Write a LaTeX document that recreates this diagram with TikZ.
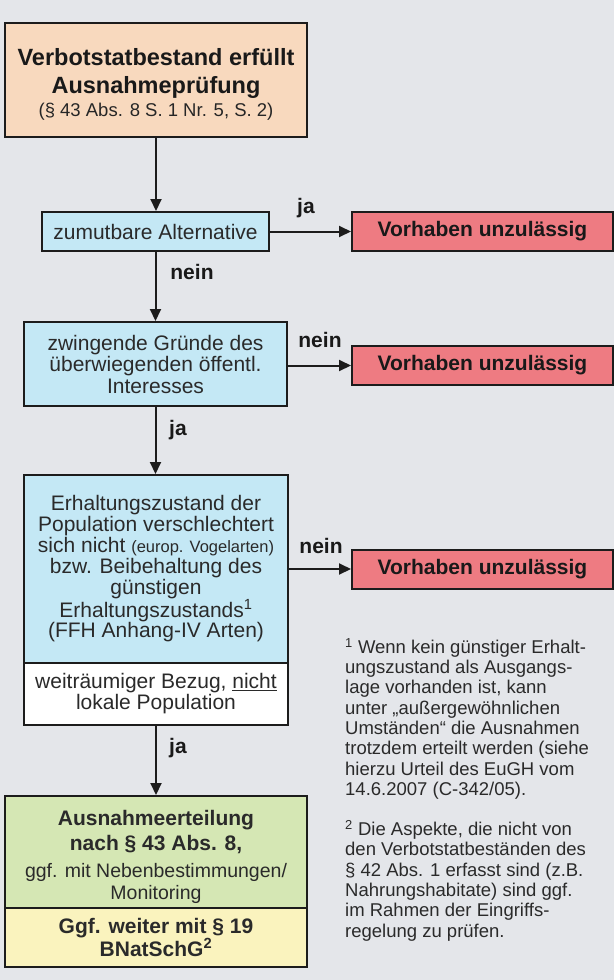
\documentclass[tikz,border=0pt]{standalone}
\usepackage{fontspec}
\setmainfont{Liberation Sans}
\usetikzlibrary{arrows.meta}
\definecolor{bgc}{HTML}{E4E6EA}
\definecolor{linec}{HTML}{1C1C1C}
\definecolor{txtc}{HTML}{2A2A2A}
\definecolor{orangec}{HTML}{F8D9BE}
\definecolor{bluec}{HTML}{C4E8F5}
\definecolor{redc}{HTML}{EE7B82}
\definecolor{greenc}{HTML}{D5E7B4}
\definecolor{yellowc}{HTML}{FAF3BE}
\begin{document}
\begin{tikzpicture}[x=1pt,y=-1pt,
  bx/.style={draw=linec, line width=2pt, inner sep=0pt, align=center, text=txtc},
  ln/.style={inner sep=0pt, anchor=base, text=txtc},
  redbox/.style={bx, fill=redc, minimum width=261pt, minimum height=39pt,
     font=\fontsize{21}{24}\selectfont\bfseries, text=black!90},
  arr/.style={draw=linec, line width=2pt, -{Triangle[length=12pt,width=11pt]}},
  lbl/.style={font=\fontsize{21}{24}\selectfont\bfseries, text=black!90, inner sep=0pt},
  fn/.style={font=\fontsize{18.5}{20.3}\selectfont, text=txtc, align=left, inner sep=0pt, anchor=north west}]
\fill[bgc] (0,0) rectangle (614,980);
\useasboundingbox (0,0) rectangle (614,980);

% main column
\node[bx, fill=orangec, minimum width=302pt, minimum height=114pt] (b1) at (156,80) {};
\node[ln, text=black!90, font=\fontsize{23.5}{28}\selectfont\bfseries] (b1a) at (156,65.5) {Verbotstatbestand erfüllt};
\node[ln, text=black!90, font=\fontsize{23.5}{28}\selectfont\bfseries] (b1b) at (156,93.5) {Ausnahmeprüfung};
\node[ln, text=black!85, font=\fontsize{18.5}{22}\selectfont] (b1c) at (156,116.5) {(§ 43 Abs. 8 S. 1 Nr. 5, S. 2)};

\node[bx, fill=bluec, minimum width=227pt, minimum height=39pt,
  font=\fontsize{21}{24}\selectfont] (b2) at (155.5,231.5) {zumutbare Alternative};

\node[bx, fill=bluec, minimum width=263pt, minimum height=84pt,
  font=\fontsize{21}{21.5}\selectfont] (b3) at (155.5,364)
  {zwingende Gründe des\\überwiegenden öffentl.\\Interesses};

\node[bx, fill=bluec, minimum width=264pt, minimum height=188pt,
  font=\fontsize{21}{20.8}\selectfont] (b4) at (156,569)
  {Erhaltungszustand der\\Population verschlechtert\\
   sich nicht {\fontsize{16.5}{20.8}\selectfont(europ. Vogelarten)}\\
   bzw. Beibehaltung des\\günstigen\\Erhaltungszustands\textsuperscript{1}\\
   (FFH Anhang-IV Arten)};

\node[bx, fill=white, minimum width=264pt, minimum height=62pt,
  font=\fontsize{21}{21}\selectfont] (b4w) at (156,694)
  {weiträumiger Bezug, \underline{nicht}\\lokale Population};

\node[bx, fill=greenc, minimum width=302pt, minimum height=112pt] (b5) at (156,852) {};
\node[ln, font=\fontsize{21}{25}\selectfont\bfseries] (b5a) at (156,825.5) {Ausnahmeerteilung};
\node[ln, font=\fontsize{21}{25}\selectfont\bfseries] (b5b) at (156,850.5) {nach § 43 Abs. 8,};
\node[ln, font=\fontsize{19.5}{22}\selectfont] (b5c) at (156,877) {ggf. mit Nebenbestimmungen/};
\node[ln, font=\fontsize{19.5}{22}\selectfont] (b5d) at (156,899) {Monitoring};

\node[bx, fill=yellowc, minimum width=302pt, minimum height=59pt,
  font=\fontsize{21}{23}\selectfont\bfseries] (b5y) at (156,937.5)
  {Ggf. weiter mit § 19\\BNatSchG\textsuperscript{2}};

% red boxes
\node[redbox] (r1) at (482.5,231.5) {Vorhaben unzulässig};
\node[redbox] (r2) at (482.5,365.5) {Vorhaben unzulässig};
\node[redbox] (r3) at (482.5,569.5) {Vorhaben unzulässig};

% vertical arrows
\draw[arr] (b1.south) -- (b1.south |- b2.north);
\draw[arr] (b2.south) -- (b2.south |- b3.north);
\draw[arr] (b3.south) -- (b3.south |- b4.north);
\draw[arr] (b4w.south) -- (b4w.south |- b5.north);

% horizontal arrows
\draw[arr] (b2.east) -- (r1.west |- b2.east);
\draw[arr] (b3.east |- r2.west) -- (r2.west);
\draw[arr] (b4.east) -- (r3.west |- b4.east);

% labels
\node[lbl] (l1) at (306,208) {ja};
\node[lbl] (l2) at (192,272) {nein};
\node[lbl] (l3) at (320,340) {nein};
\node[lbl] (l4) at (178,430) {ja};
\node[lbl] (l5) at (321,546) {nein};
\node[lbl] (l6) at (178,748) {ja};

% footnotes
\node[fn] (fn1) at (345,638)
  {\textsuperscript{1} Wenn kein günstiger Erhalt-\\
   ungszustand als Ausgangs-\\
   lage vorhanden ist, kann\\
   unter „außergewöhnlichen\\
   Umständen“ die Ausnahmen\\
   trotzdem erteilt werden (siehe\\
   hierzu Urteil des EuGH vom\\
   14.6.2007 (C-342/05).};
\node[fn] (fn2) at (345,820)
  {\textsuperscript{2} Die Aspekte, die nicht von\\
   den Verbotstatbeständen des\\
   § 42 Abs. 1 erfasst sind (z.B.\\
   Nahrungshabitate) sind ggf.\\
   im Rahmen der Eingriffs-\\
   regelung zu prüfen.};
\end{tikzpicture}
\end{document}
